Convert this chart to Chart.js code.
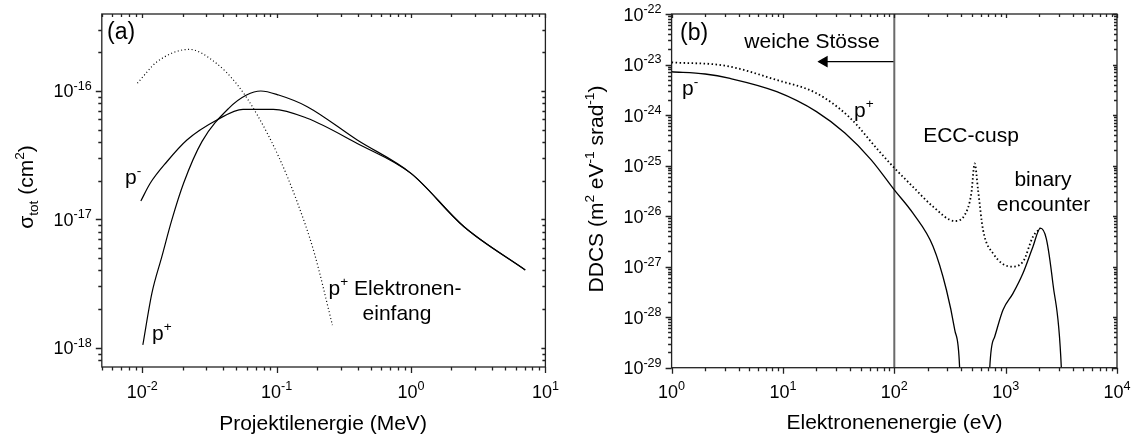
<!DOCTYPE html>
<html>
<head>
<meta charset="utf-8">
<script src="https://cdn.jsdelivr.net/npm/chart.js@4/dist/chart.umd.min.js"></script>
<style>
  body { margin: 0; background: #fff; }
  #wrap { position: relative; width: 1133px; height: 444px; }
  canvas { position: absolute; top: 0; }
  #grafiekA { left: 0; }
  #grafiekB { left: 566px; }
</style>
</head>
<body>
<div id="wrap">
  <canvas id="grafiekA" width="566" height="444"></canvas>
  <canvas id="grafiekB" width="567" height="444"></canvas>
</div>
<script>
// ---- panel (a): total cross sections vs projectile energy (MeV) ----
const aMinusE = [0.00976, 0.01146, 0.01524, 0.0215, 0.0359, 0.0562, 0.0944, 0.169, 0.398, 1.0, 2.48, 7.08];
const aMinusS = [1.39e-17, 1.91e-17, 2.81e-17, 4.15e-17, 5.94e-17, 7.2e-17, 7.2e-17, 6.13e-17, 3.9e-17, 2.28e-17, 8.75e-18, 4.03e-18];

const aPlusE = [0.0101, 0.01179, 0.01399, 0.0166, 0.0203, 0.0278, 0.044, 0.0597, 0.0762, 0.1035, 0.169, 0.398, 1.0, 2.48, 7.08];
const aPlusS = [1.05e-18, 2.65e-18, 5.12e-18, 9.9e-18, 1.91e-17, 4.03e-17, 7.33e-17, 9.3e-17, 1.0e-16, 9.3e-17, 7.55e-17, 4.15e-17, 2.28e-17, 8.75e-18, 4.03e-18];

const aCaptE = [0.0092, 0.0129, 0.0224, 0.0344, 0.0513, 0.0718, 0.1035, 0.1406, 0.191, 0.26];
const aCaptS = [1.15e-16, 1.69e-16, 2.11e-16, 1.69e-16, 1.11e-16, 6.5e-17, 3.08e-17, 1.41e-17, 5.43e-18, 1.5e-18];

const aXTicks = [1e-2, 1e-1, 1, 10];
const aXTickExp = ['-2', '-1', '0', '1'];
const aYTicks = [1e-16, 1e-17, 1e-18];
const aYTickExp = ['-16', '-17', '-18'];

// ---- panel (b): DDCS vs electron energy (eV) ----
const bMinusE = [1, 2, 3.35, 8.8, 20, 36, 62, 100, 147, 223, 294, 349, 386, 396, 550, 705, 720, 797, 946, 1164, 1430, 1758, 2050, 2317, 2655, 3162, 3260];
const bMinusD = [7.2e-24, 6.5e-24, 5.3e-24, 2.9e-24, 1.17e-24, 4.4e-25, 1.3e-25, 3.3e-26, 1.14e-26, 2.5e-27, 3.45e-28, 5.6e-29, 1e-29, 1e-30, null, 1e-30, 1e-29, 4.1e-29, 1.39e-28, 2.96e-28, 7.4e-28, 2.48e-27, 5.8e-27, 3.6e-27, 4.7e-28, 1e-29, 1e-30];

const bPlusE = [1, 3, 8.8, 20, 39, 72, 100, 147, 223, 349, 429, 492, 527, 565, 627, 769, 1125, 1430, 1758, 2050];
const bPlusD = [1.1e-23, 9.5e-24, 4.94e-24, 2.7e-24, 9.3e-25, 2.0e-25, 9e-26, 3.8e-26, 1.54e-26, 8.0e-27, 1.05e-26, 2.83e-26, 1.11e-25, 3.29e-26, 5.3e-27, 1.84e-27, 1.0e-27, 1.25e-27, 3.9e-27, 5.8e-27];

const bGrens = 100;          // vertical line: weiche Stösse limit
const bPijlEind = 23.5;      // arrow head position (eV)
const bPijlY = 1.14e-23;

const bXTicks = [1, 10, 100, 1000, 10000];
const bXTickExp = ['0', '1', '2', '3', '4'];
const bYTicks = [1e-22, 1e-23, 1e-24, 1e-25, 1e-26, 1e-27, 1e-28, 1e-29];
const bYTickExp = ['-22', '-23', '-24', '-25', '-26', '-27', '-28', '-29'];

const FONT = '"Liberation Sans", Arial, Helvetica, sans-serif';

const punten = (xs, ys) => xs.map((x, i) => ({ x: x, y: ys[i] }));

// tekst met super-/subscript stukjes
function rich(ctx, parts, x, y, size, align, ratio) {
  ratio = ratio || 0.65;
  const segs = parts.map(p => {
    const t = typeof p === 'string' ? p : p[0];
    const k = typeof p === 'string' ? 'n' : p[1];
    const fs = k === 'n' ? size : size * ratio;
    ctx.font = fs + 'px ' + FONT;
    return { t, k, fs, w: ctx.measureText(t).width };
  });
  const total = segs.reduce((s, g) => s + g.w, 0);
  let cx = align === 'center' ? x - total / 2 : align === 'right' ? x - total : x;
  ctx.textAlign = 'left';
  ctx.textBaseline = 'alphabetic';
  segs.forEach(g => {
    ctx.font = g.fs + 'px ' + FONT;
    const dy = g.k === 'sup' ? -size * 0.42 : g.k === 'sub' ? size * 0.25 : 0;
    ctx.fillText(g.t, cx, y + dy);
    cx += g.w;
  });
}

function logTicks(min, max) {
  const major = [], minor = [];
  for (let e = Math.floor(Math.log10(min)); e <= Math.ceil(Math.log10(max)); e++) {
    for (let m = 1; m <= 9; m++) {
      const v = m * Math.pow(10, e);
      if (v < min * 0.999 || v > max * 1.001) continue;
      (m === 1 ? major : minor).push(v);
    }
  }
  return { major, minor };
}

// frame, ticks, labels and notes
const assenPlugin = {
  id: 'assen',
  afterDraw(chart) {
    const o = chart.options.plugins.assen;
    const ctx = chart.ctx;
    const { left, right, top, bottom } = chart.chartArea;
    const xs = chart.scales.x, ys = chart.scales.y;
    ctx.save();
    ctx.strokeStyle = '#222';
    ctx.lineWidth = 1.3;
    ctx.strokeRect(left, top, right - left, bottom - top);

    const tx = logTicks(xs.min, xs.max), ty = logTicks(ys.min, ys.max);
    ctx.beginPath();
    const xt = (v, lo, li) => {
      const p = Math.round(xs.getPixelForValue(v)) + 0.5;
      ctx.moveTo(p, bottom); ctx.lineTo(p, bottom + lo);
      ctx.moveTo(p, top); ctx.lineTo(p, top + li);
    };
    const yt = (v, lo, li) => {
      const p = Math.round(ys.getPixelForValue(v)) + 0.5;
      ctx.moveTo(left - lo, p); ctx.lineTo(left, p);
      ctx.moveTo(right - li, p); ctx.lineTo(right, p);
    };
    tx.major.forEach(v => xt(v, 6, 4));
    tx.minor.forEach(v => xt(v, 3.5, 3));
    ty.major.forEach(v => yt(v, 6, 4));
    ty.minor.forEach(v => yt(v, 3.5, 3));
    ctx.stroke();

    ctx.fillStyle = '#000';
    o.xTicks.forEach((v, i) => {
      rich(ctx, ['10', [o.xExp[i], 'sup']], xs.getPixelForValue(v), 398, 18, 'center', 0.7);
    });
    o.yTicks.forEach((v, i) => {
      rich(ctx, ['10', [o.yExp[i], 'sup']], left - 10, ys.getPixelForValue(v) + 6.5, 18, 'right', 0.7);
    });

    const ox = o.offset;
    o.notes.forEach(n => {
      if (n.rot) {
        ctx.save();
        ctx.translate(n.x - ox, n.y);
        ctx.rotate(-Math.PI / 2);
        rich(ctx, n.parts, 0, 0, n.size, 'center');
        ctx.restore();
      } else {
        rich(ctx, n.parts, n.x - ox, n.y, n.size, n.align || 'left');
      }
    });
    ctx.restore();
  }
};

function basisOpties(pad, xMin, xMax, yMin, yMax, assen) {
  return {
    responsive: false,
    animation: false,
    devicePixelRatio: 1,
    layout: { padding: pad },
    elements: { point: { radius: 0 } },
    scales: {
      x: { type: 'logarithmic', min: xMin, max: xMax, display: false },
      y: { type: 'logarithmic', min: yMin, max: yMax, display: false }
    },
    plugins: {
      legend: { display: false },
      tooltip: { enabled: false },
      assen: assen
    }
  };
}

new Chart(document.getElementById('grafiekA'), {
  type: 'line',
  data: {
    datasets: [
      { data: punten(aMinusE, aMinusS), borderColor: '#000', borderWidth: 1.2, cubicInterpolationMode: 'monotone' },
      { data: punten(aPlusE, aPlusS), borderColor: '#000', borderWidth: 1.2, cubicInterpolationMode: 'monotone' },
      { data: punten(aCaptE, aCaptS), borderColor: '#000', borderWidth: 1.2, borderDash: [1, 2.5], cubicInterpolationMode: 'monotone' }
    ]
  },
  options: basisOpties({ left: 101.8, top: 14, right: 20.6, bottom: 77 }, 0.005, 10, 7.07e-19, 3.98e-16, {
    offset: 0,
    xTicks: aXTicks, xExp: aXTickExp, yTicks: aYTicks, yExp: aYTickExp,
    notes: [
      { parts: ['(a)'], x: 107, y: 39, size: 23 },
      { parts: ['p', ['-', 'sup']], x: 125, y: 184, size: 21 },
      { parts: ['p', ['+', 'sup']], x: 152, y: 340, size: 21 },
      { parts: ['p', ['+', 'sup'], ' Elektronen-'], x: 328.6, y: 295, size: 21 },
      { parts: ['einfang'], x: 397, y: 320, size: 21, align: 'center' },
      { parts: ['Projektilenergie (MeV)'], x: 323, y: 430, size: 21, align: 'center' },
      { parts: ['σ', ['tot', 'sub'], ' (cm', ['2', 'sup'], ')'], x: 33, y: 187, size: 21, rot: true }
    ]
  }),
  plugins: [assenPlugin]
});

new Chart(document.getElementById('grafiekB'), {
  type: 'line',
  data: {
    datasets: [
      { data: punten(bMinusE, bMinusD), borderColor: '#000', borderWidth: 1.3, cubicInterpolationMode: 'monotone', spanGaps: false },
      { data: punten(bPlusE, bPlusD), borderColor: '#000', borderWidth: 1.8, borderDash: [1.5, 2.5], cubicInterpolationMode: 'monotone' },
      { data: [{ x: bGrens, y: 1e-29 }, { x: bGrens, y: 1e-22 }], borderColor: '#6a6a6a', borderWidth: 2 },
      {
        data: [{ x: bGrens, y: bPijlY }, { x: bPijlEind, y: bPijlY }],
        borderColor: '#000', borderWidth: 1.3, backgroundColor: '#000',
        pointRadius: [0, 5.5], pointStyle: 'triangle', pointRotation: -90
      }
    ]
  },
  options: basisOpties({ left: 105.6, top: 14, right: 16, bottom: 76.3 }, 1, 10000, 1e-29, 1e-22, {
    offset: 566,
    xTicks: bXTicks, xExp: bXTickExp, yTicks: bYTicks, yExp: bYTickExp,
    notes: [
      { parts: ['(b)'], x: 680, y: 40, size: 23 },
      { parts: ['weiche Stösse'], x: 812, y: 48, size: 21, align: 'center' },
      { parts: ['p', ['-', 'sup']], x: 682, y: 95, size: 21 },
      { parts: ['p', ['+', 'sup']], x: 854, y: 117, size: 21 },
      { parts: ['ECC-cusp'], x: 971, y: 142, size: 21, align: 'center' },
      { parts: ['binary'], x: 1043, y: 186, size: 21, align: 'center' },
      { parts: ['encounter'], x: 1043.5, y: 211, size: 21, align: 'center' },
      { parts: ['Elektronenenergie (eV)'], x: 894.5, y: 429, size: 21, align: 'center' },
      { parts: ['DDCS (m', ['2', 'sup'], ' eV', ['-1', 'sup'], ' srad', ['-1', 'sup'], ')'], x: 603, y: 189, size: 21, rot: true }
    ]
  }),
  plugins: [assenPlugin]
});
</script>
</body>
</html>
